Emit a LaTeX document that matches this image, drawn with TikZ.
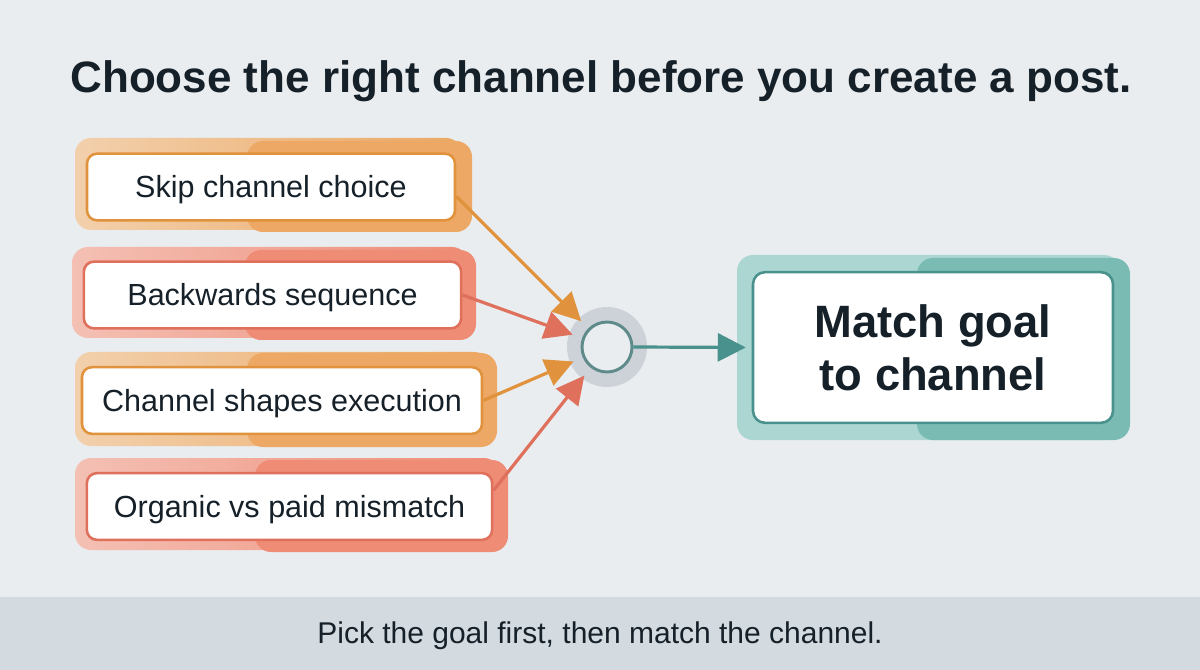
\documentclass[tikz,border=0pt]{standalone}
\usepackage{fontspec}
\setmainfont{Liberation Sans}
\usetikzlibrary{arrows.meta}

\definecolor{pagebg}{RGB}{233,237,240}
\definecolor{footbg}{RGB}{211,218,224}
\definecolor{inktxt}{RGB}{22,32,40}
\definecolor{orgLine}{RGB}{224,146,60}
\definecolor{orgDark}{RGB}{236,168,100}
\definecolor{orgLite}{RGB}{242,208,172}
\definecolor{redLine}{RGB}{222,112,92}
\definecolor{redDark}{RGB}{238,140,118}
\definecolor{redLite}{RGB}{244,192,180}
\definecolor{tealLine}{RGB}{72,145,140}
\definecolor{tealDark}{RGB}{122,188,180}
\definecolor{tealLite}{RGB}{172,214,210}
\definecolor{hubRing}{RGB}{94,138,138}
\definecolor{hubHalo}{RGB}{204,210,216}

\begin{document}
\begin{tikzpicture}[x=0.75pt,y=0.75pt,yscale=-1,xscale=1,
  card/.style={draw=#1,line width=1.9pt,fill=white,rounded corners=7.5pt,
    minimum height=50pt,inner sep=0pt,text=inktxt,text height=16.5pt,text depth=0pt,
    font=\fontsize{22.9}{27}\selectfont},
  feed/.style={draw=#1,line width=2.4pt,-{Triangle[length=21pt,width=21pt]},
    shorten >=7.5pt},
  halo/.style={rounded corners=12pt,fill=#1}
]
\useasboundingbox (0,0) rectangle (1200,670);

% Background
\fill[pagebg] (0,0) rectangle (1200,670);
\fill[footbg] (0,597) rectangle (1200,670);

% Halos behind the cards
\shade[rounded corners=12pt,left color=orgLite,right color=orgDark] (75,138) rectangle (462,230);
\fill[halo=orgDark] (247,141) rectangle (472,232);
\shade[rounded corners=12pt,left color=redLite,right color=redDark] (72,247) rectangle (468,338);
\fill[halo=redDark] (245,250) rectangle (476,340);
\shade[rounded corners=12pt,left color=orgLite,right color=orgDark] (75,352) rectangle (490,446);
\fill[halo=orgDark] (247,353) rectangle (497,447);
\shade[rounded corners=12pt,left color=redLite,right color=redDark] (75,458) rectangle (500,550);
\fill[halo=redDark] (255,460) rectangle (508,552);
\fill[halo=tealLite] (737,255) rectangle (1120,440);
\fill[halo=tealDark] (917,258) rectangle (1130,440);
\fill[hubHalo] (607,347) circle [radius=30pt];

% Title
\node[text=inktxt,font=\fontsize{33}{40}\selectfont\bfseries] (title) at (601,81)
  {Choose the right channel before you create a post.};

% Cards
\node[card=orgLine,minimum width=276pt] (skip) at (271,187) {Skip channel choice};
\node[card=redLine,minimum width=283pt] (back) at (272.5,295) {Backwards sequence};
\node[card=orgLine,minimum width=300pt] (shape) at (282,400.5) {Channel shapes execution};
\node[card=redLine,minimum width=304pt] (paid) at (289.5,506.5) {Organic vs paid mismatch};

% Hub and goal
\node[circle,draw=hubRing,line width=2.2pt,fill=pagebg,minimum size=37.5pt,inner sep=0pt] (hub) at (607,347) {};
\node[draw=tealLine,line width=1.9pt,fill=white,rounded corners=9pt,
  minimum width=270pt,minimum height=113pt,align=center,text=inktxt,
  font=\fontsize{34}{40}\selectfont\bfseries] (goal) at (933,347.5) {Match goal\\to channel};

% Connectors
\draw[feed=orgLine] ([yshift=7pt]skip.east) -- (hub);
\draw[feed=redLine] (back.east) -- (hub);
\draw[feed=orgLine] (shape.east) -- (hub);
\draw[feed=redLine] ([yshift=-12pt]paid.east) -- (hub);
\draw[feed=tealLine,shorten >=4.5pt] (hub.east) -- (goal.west);

% Footer
\node[text=inktxt,font=\fontsize{22.5}{27}\selectfont] (foot) at (600,636)
  {Pick the goal first, then match the channel.};

\end{tikzpicture}
\end{document}
